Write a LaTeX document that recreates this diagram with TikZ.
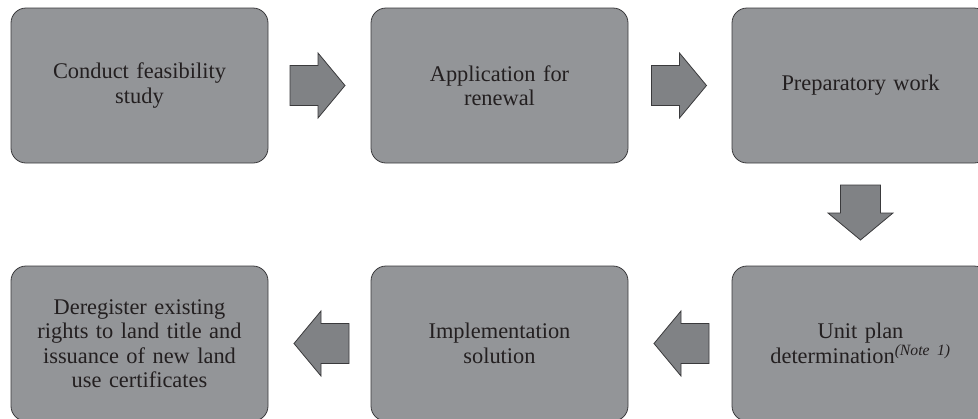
\documentclass[tikz,border=0pt]{standalone}
\usepackage{fontspec}
\setmainfont{Liberation Serif}
\usetikzlibrary{calc}
\definecolor{boxfill}{HTML}{939598}
\definecolor{arrfill}{HTML}{808285}
\definecolor{edgecol}{HTML}{3A3A3C}
\definecolor{txtcol}{HTML}{231F20}
\tikzset{
  stepbox/.style={draw=edgecol, fill=boxfill, line width=0.8pt, rounded corners=15pt,
    minimum width=257pt, minimum height=155pt, text width=230pt, align=center,
    inner sep=0pt, text=txtcol, font=\fontsize{22.4}{24.5}\selectfont},
  arrowbody/.style={draw=edgecol, fill=arrfill, line width=0.8pt, line join=miter},
  blockarrow/.pic={\path[arrowbody] (-27.5,-20) -- (0.5,-20) -- (0.5,-32.5) -- (27.5,0)
     -- (0.5,32.5) -- (0.5,20) -- (-27.5,20) -- cycle;}
}
\begin{document}
\begin{tikzpicture}[x=1pt,y=-1pt]
\useasboundingbox (0,0) rectangle (978,418);
\begin{scope}
\clip (0,0) rectangle (978,418);
\node[stepbox] (b1) at (139.5,85.5) {Conduct feasibility\\study};
\node[stepbox] (b2) at (499.5,85.5) {Application for\\renewal};
\node[stepbox] (b3) at (860.5,85.5) {Preparatory work};
\node[stepbox] (b4) at (139.5,343.5) {Deregister existing\\rights to land title and\\issuance of new land\\use certificates};
\node[stepbox] (b5) at (499.5,343.5) {Implementation\\solution};
\node[stepbox] (b6) at (860.5,343.5) {Unit plan\\determination\textsuperscript{\itshape(Note 1)}};
\end{scope}
\pic at ($(b1.east)!0.5!(b2.west)+(-2,0)$) {blockarrow};
\pic at ($(b2.east)!0.5!(b3.west)+(-1,0)$) {blockarrow};
\pic[rotate=-90] at ($(b3.south)!0.5!(b6.north)+(0,-2)$) {blockarrow};
\pic[rotate=180] at ($(b5.east)!0.5!(b6.west)+(1.5,0)$) {blockarrow};
\pic[rotate=180] at ($(b4.east)!0.5!(b5.west)+(2,0)$) {blockarrow};
\end{tikzpicture}
\end{document}
